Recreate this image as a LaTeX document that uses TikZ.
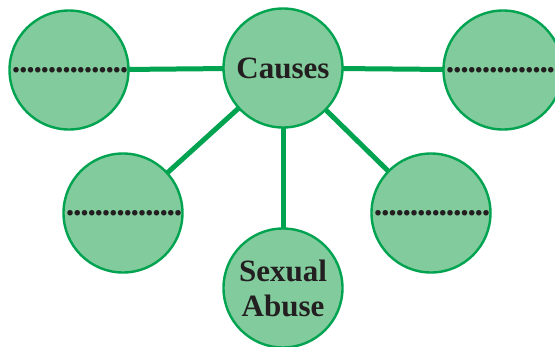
\documentclass[tikz,border=0pt]{standalone}
\usepackage{fontspec}
\setmainfont{Liberation Serif}
\usetikzlibrary{positioning}
\definecolor{leafgreen}{RGB}{130,203,156}
\definecolor{rimgreen}{RGB}{0,163,80}
\definecolor{inkgray}{RGB}{35,31,32}

\begin{document}
\begin{tikzpicture}[x=1pt,y=-1pt]
\tikzstyle{cause}=[circle,draw=rimgreen,fill=leafgreen,line width=2.4pt,
inner sep=0pt,outer sep=0pt,minimum size=119pt,text=inkgray,
font=\bfseries\fontsize{31}{34}\selectfont,align=center]
\tikzstyle{link}=[draw=rimgreen,line width=5pt]
\newcommand{\blank}{{\fontsize{34}{34}\selectfont\kern1pt\foreach \d in {1,...,16}{.\kern-1.3pt}}}
\useasboundingbox (0,0) rectangle (555,346);

\node[cause] at (283,68) (causes) {Causes};
\node[cause,left of =causes,node distance=214pt,yshift=-2pt](tl) {\blank} ;
\node[cause,right of =causes,node distance=220pt,yshift=-2pt](tr) {\blank} ;
\node[cause,below of =causes,node distance=220pt](abuse) {Sexual\\[1pt]Abuse} ;
\node[cause,left of =abuse,node distance=160pt,yshift=75pt](ml) {\blank} ;
\node[cause,right of =abuse,node distance=148pt,yshift=75pt](mr) {\blank} ;

\path[link] (causes) -- (tl) ;
\path[link] (causes) -- (tr) ;
\path[link] (causes) -- (abuse) ;
\path[link] (causes) -- (ml) ;
\path[link] (causes) -- (mr) ;

\end{tikzpicture}
\end{document}
